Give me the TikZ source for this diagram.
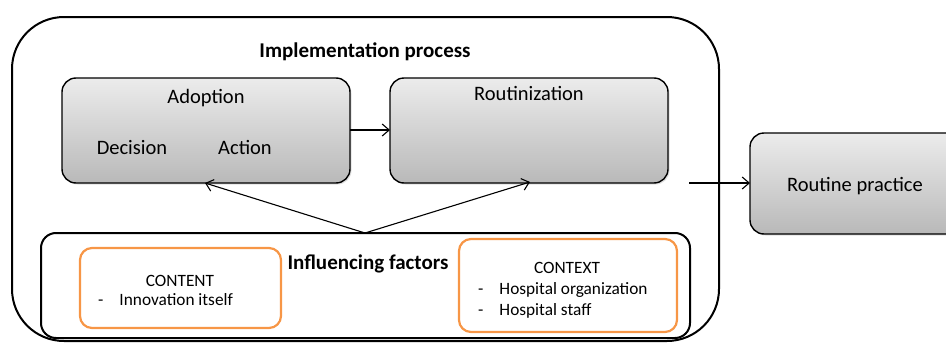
\documentclass[tikz,border=0pt]{standalone}
\usepackage{fontspec}
\setmainfont{Carlito}
\usetikzlibrary{shadows,arrows.meta}
\definecolor{accent}{HTML}{F79646}
\tikzset{
  x=1pt, y=-1pt,
  stage/.style={draw=black, line width=1.4pt, rounded corners=14pt,
    top color=gray!15, bottom color=gray!55,
    drop shadow={shadow xshift=1.5pt, shadow yshift=-1.5pt, opacity=0.25}},
  factor/.style={draw=accent, line width=2.2pt, rounded corners=12pt, fill=white},
  txt/.style={inner sep=0pt, text height=1.45ex, text depth=0.35ex, yshift=-5pt},
  lbl/.style={txt, font=\fontsize{20.5}{24}\selectfont},
  small/.style={txt, font=\fontsize{17.3}{20}\selectfont},
  heading/.style={txt, font=\fontsize{21}{25}\selectfont\bfseries},
  flow/.style={-{Straight Barb[length=7pt,width=12pt]}, line width=1.1pt}
}
\begin{document}
\begin{tikzpicture}
\useasboundingbox (0,0) rectangle (946,343);
% outer process frame
\draw[line width=2pt, rounded corners=52pt] (12,17) rectangle (719,341);
\node[heading] (impl) at (365,50) {Implementation process};
% stages
\draw[stage] (62,78) rectangle (350,183);
\coordinate (adoptW) at (62,130);
\coordinate (adoptE) at (350,130);
\coordinate (adoptS) at (205,183);
\draw[stage] (390,78) rectangle (668,183);
\coordinate (routW) at (390,130);
\coordinate (routS) at (530,182);
\node[lbl] (adoption) at (206,96) {Adoption};
\node[lbl] (decision) at (132,147) {Decision};
\node[lbl] (action) at (245,147) {Action};
\node[lbl] (routinization) at (529,93) {Routinization};
% routine practice
\draw[stage] (750,133) rectangle (960,234);
\coordinate (practW) at (750,183);
\node[lbl] (practice) at (855,184) {Routine practice};
% influencing factors
\draw[line width=2pt, rounded corners=15pt] (41,233) rectangle (690,338);
\coordinate (infN) at (365,233);
\node[heading] (influence) at (368,262) {Influencing factors};
\draw[factor] (80,248) rectangle (281,328);
\node[small] (content) at (180,279) {CONTENT};
\node[small, anchor=west] (contentA) at (98,298) {-\hspace{16pt}Innovation itself};
\draw[factor] (459,239) rectangle (677,332);
\node[small] (context) at (567,266) {CONTEXT};
\node[small, anchor=west] (contextA) at (478,287) {-\hspace{16pt}Hospital organization};
\node[small, anchor=west] (contextB) at (478,308) {-\hspace{16pt}Hospital staff};
% connectors
\coordinate (exitP) at (689,183);
\draw[flow] (adoptE) -- (routW);
\draw[flow] (exitP) -- (practW);
\draw[flow] (infN) -- (adoptS);
\draw[flow] (infN) -- (routS);
\end{tikzpicture}
\end{document}
